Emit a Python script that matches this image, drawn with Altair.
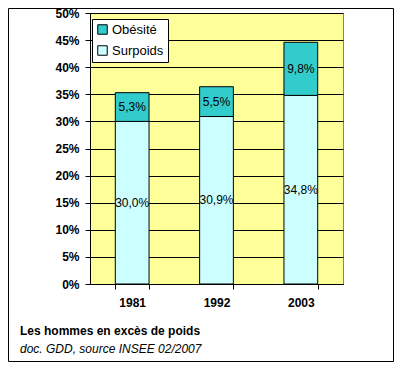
import altair as alt
import pandas as pd

years = ["1981", "1992", "2003"]
surpoids = [30.0, 30.9, 34.8]
obesite = [5.3, 5.5, 9.8]
series = ["Obésité", "Surpoids"]
colors = ["#33CCCC", "#CCFFFF"]
y_ticks = list(range(0, 55, 5))
title_text = "Les hommes en excès de poids"
source_text = "doc. GDD, source INSEE 02/2007"

rows = []
for yr, s, o in zip(years, surpoids, obesite):
    rows.append({"annee": yr, "type": "Surpoids", "v": s, "o": 0})
    rows.append({"annee": yr, "type": "Obésité", "v": o, "o": 1})
df = pd.DataFrame(rows)

FONT = "Liberation Sans"

base = alt.Chart(df).transform_stack(
    stack="v", groupby=["annee"], as_=["y0", "y1"],
    sort=[alt.SortField("o", order="ascending")]
).transform_calculate(
    mid="(datum.y0 + datum.y1) / 2",
    lab="replace(format(datum.v, '.1f'), '.', ',') + '%'"
)

x_scale = alt.Scale(paddingInner=0.6, paddingOuter=0.3)
x_axis = alt.Axis(labelAngle=0, tickBand="extent", domainColor="black",
                  tickColor="black", tickSize=5, labelPadding=8,
                  labelFont=FONT, labelFontSize=12, labelFontWeight="bold",
                  labelColor="black")
y_scale = alt.Scale(domain=[0, 50], nice=False)
y_axis = alt.Axis(values=y_ticks, labelExpr="datum.value + '%'",
                  labelOverlap=False,
                  grid=True, gridColor="black", gridOpacity=1,
                  domainColor="black", tickColor="black", tickSize=5,
                  labelPadding=6, labelFont=FONT, labelFontSize=12,
                  labelFontWeight="bold", labelColor="black")

bars = base.mark_bar(stroke="black", strokeWidth=1).encode(
    x=alt.X("annee:N", title=None, sort=years, scale=x_scale, axis=x_axis),
    y=alt.Y("y0:Q", title=None, scale=y_scale, axis=y_axis),
    y2="y1",
    color=alt.Color("type:N", scale=alt.Scale(domain=series, range=colors),
                    legend=alt.Legend(title=None, orient="none", legendX=2, legendY=6,
                                      fillColor="white", strokeColor="black",
                                      padding=4, symbolType="square", symbolSize=90,
                                      symbolStrokeColor="black", symbolStrokeWidth=1,
                                      labelFont=FONT, labelFontSize=13, labelColor="black",
                                      rowPadding=6, labelOffset=3)),
    order=alt.Order("o:Q", sort="ascending"),
)

labels = base.mark_text(font=FONT, fontSize=12, color="black").encode(
    x=alt.X("annee:N", title=None, sort=years, scale=x_scale, axis=x_axis),
    y=alt.Y("mid:Q", title=None, scale=y_scale, axis=y_axis),
    text="lab:N",
)

border = alt.Chart(pd.DataFrame({"a": [0]})).mark_rect(
    fillOpacity=0, stroke="black", strokeWidth=1, clip=False
).encode(x=alt.value(-81.5), x2=alt.value(303.5), y=alt.value(-4.5), y2=alt.value(348.5))

t1 = alt.Chart(pd.DataFrame({"t": [title_text]})).mark_text(
    font=FONT, fontSize=12, fontWeight="bold", color="black", align="left",
    baseline="middle", clip=False
).encode(x=alt.value(-70), y=alt.value(318), text="t:N")

t2 = alt.Chart(pd.DataFrame({"t": [source_text]})).mark_text(
    font=FONT, fontSize=12, fontStyle="italic", color="black", align="left",
    baseline="middle", clip=False
).encode(x=alt.value(-70), y=alt.value(336), text="t:N")

chart = alt.layer(bars, labels, border, t1, t2).properties(
    width=253, height=271,
    padding={"left": 82, "top": 5, "right": 51, "bottom": 78},
    autosize=alt.AutoSizeParams(type="none"),
    background="white",
).configure_view(
    fill="#FFFF99", stroke="#808080", strokeWidth=1
)

chart.save("out.html", embed_options={"renderer": "svg", "actions": False})
